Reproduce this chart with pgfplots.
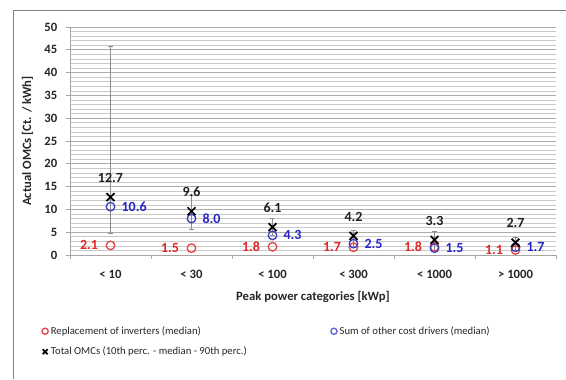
\documentclass[border=0pt]{standalone}
\usepackage{pgfplots}
\pgfplotsset{compat=1.18}
\usepackage{pgfplotstable}
\usepackage{fontspec}
\setmainfont{Carlito}
\definecolor{myred}{RGB}{226,38,38}
\definecolor{myblue}{RGB}{36,36,200}
\definecolor{cred}{RGB}{228,70,70}
\definecolor{cblue}{RGB}{60,60,196}
\pgfplotstableread{
x red redlab blue bluelab tot totlab ep em
0 2.1 2.1 10.6 10.6 12.7 12.7 33.0 7.9
1 1.5 1.5 8.0 8.0 9.6 9.6 3.4 3.9
2 1.8 1.8 4.3 4.3 6.1 6.1 2.0 1.7
3 1.7 1.7 2.5 2.5 4.2 4.2 1.3 2.6
4 1.8 1.8 1.5 1.5 3.3 3.3 1.8 2.3
5 1.1 1.1 1.7 1.7 2.7 2.7 1.1 1.7
}\data
\begin{document}
\begin{tikzpicture}
\path[use as bounding box] (0,0) rectangle (424.5pt,-284.25pt);
\draw[black!50, line width=0.7pt] (9.75pt,-284.25pt) -- (9.75pt,-7.5pt) -- (424.5pt,-7.5pt);
\begin{axis}[
  at={(52.5pt,-191.25pt)}, anchor=south west,
  scale only axis, width=364.5pt, height=171pt,
  xmin=-0.5, xmax=5.5, ymin=0, ymax=50,
  axis x line*=bottom, axis y line*=left,
  axis line style={black!35, line width=0.6pt},
  xtick={0,...,5},
  xticklabels={< 10,< 30,< 100,< 300,< 1000,> 1000},
  minor xtick={-0.5,0.5,...,5.5},
  major x tick style={draw=none},
  minor x tick style={black!35, line width=0.6pt},
  ytick={0,5,...,50}, minor y tick num=4,
  major y tick style={black!35, line width=0.6pt},
  minor y tick style={draw=none},
  tick align=outside, major tick length=3pt, minor tick length=3pt,
  ymajorgrids, yminorgrids,
  major grid style={black!33, line width=0.55pt},
  minor grid style={black!21, line width=0.5pt},
  ticklabel style={font=\bfseries\fontsize{9.5}{11}\selectfont, text=black!85},
  /pgf/number format/assume math mode=true,
  xticklabel style={yshift=-5pt},
  yticklabel style={xshift=-3pt},
  xlabel={Peak power categories [kWp]},
  ylabel={Actual OMCs [Ct. / kWh]},
  label style={font=\bfseries\fontsize{9.5}{11}\selectfont, text=black!85},
  xlabel style={at={(axis description cs:0.5,0)}, anchor=center, yshift=-31.5pt},
  ylabel style={at={([xshift=-32pt]axis description cs:0,0.5)}, anchor=center},
  clip=false,
  legend columns=2,
  legend cell align=left,
  legend style={at={(axis description cs:-0.058,-0.30)}, anchor=north west, draw=none, fill=none,
    font=\fontsize{8}{9.6}\selectfont, text=black!85, inner sep=0pt, row sep=4pt,
    /tikz/every even column/.style={column sep=0pt}},
]
\addplot[only marks, mark=o, cred, mark size=3.2pt, mark options={line width=1pt},
  legend image code/.code={\draw[cred, line width=0.6pt] plot[mark=o, mark size=2.3pt] coordinates {(2.5pt,0pt)};},
  nodes near coords, point meta=explicit symbolic,
  every node near coord/.style={anchor=east, xshift=-5.5pt, text=myred, font=\bfseries\fontsize{10.5}{12}\selectfont}]
  table[x=x, y=red, meta=redlab] {\data};
\addlegendentry{\makebox[208pt][l]{Replacement of inverters (median)}}
\addplot[only marks, mark=o, cblue, mark size=3.2pt, mark options={line width=1pt},
  legend image code/.code={\draw[cblue!80, line width=0.6pt] plot[mark=o, mark size=2.3pt] coordinates {(2.5pt,0pt)};},
  nodes near coords, point meta=explicit symbolic,
  every node near coord/.style={anchor=west, xshift=4.5pt, text=myblue, font=\bfseries\fontsize{10.5}{12}\selectfont}]
  table[x=x, y=blue, meta=bluelab] {\data};
\addlegendentry{Sum of other cost drivers (median)}
\addplot[only marks, mark=x, black, mark size=4.2pt, mark options={line width=1.3pt},
  legend image code/.code={\draw[black, line width=1.1pt] plot[mark=x, mark size=2.6pt] coordinates {(2.5pt,0pt)};},
  error bars/.cd, y dir=both, y explicit,
  error bar style={black!45, line width=0.6pt},
  error mark options={rotate=90, black!45, mark size=2pt, line width=0.6pt}]
  table[x=x, y=tot, y error plus=ep, y error minus=em] {\data};
\addlegendentry{Total OMCs (10th perc. - median - 90th perc.)}
\addplot[only marks, mark=none, draw=none, forget plot,
  nodes near coords, point meta=explicit symbolic,
  every node near coord/.style={anchor=south, yshift=7.5pt, text=black!88, font=\bfseries\fontsize{10.5}{12}\selectfont}]
  table[x=x, y=tot, meta=totlab] {\data};
\end{axis}
\end{tikzpicture}
\end{document}
